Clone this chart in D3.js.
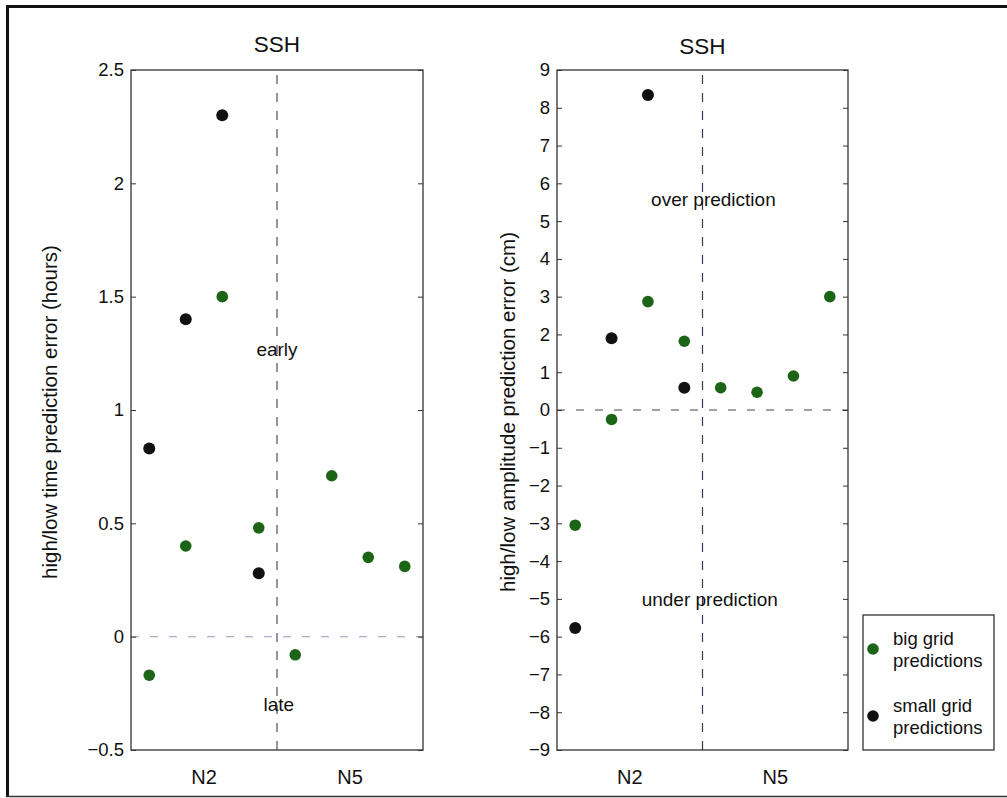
<!DOCTYPE html>
<html>
<head>
<meta charset="utf-8">
<script src="https://cdn.jsdelivr.net/npm/d3@7"></script>
<style>
  body { margin: 0; background: #fff; }
  text { font-family: "Liberation Sans", Arial, Helvetica, sans-serif; fill: #111; }
</style>
</head>
<body>
<div id="container"></div>
<script>
// station index 1..8 (N2 = 1-4, N5 = 5-8)
var timeBigX = [1, 2, 3, 4, 5, 6, 7, 8];
var timeBig = [-0.17, 0.40, 1.50, 0.48, -0.08, 0.71, 0.35, 0.31];
var timeSmallX = [1, 2, 3, 4];
var timeSmall = [0.83, 1.40, 2.30, 0.28];

var ampBigX = [1, 2, 3, 4, 5, 6, 7, 8];
var ampBig = [-3.05, -0.25, 2.87, 1.82, 0.59, 0.47, 0.9, 3.0];
var ampSmallX = [1, 2, 3, 4];
var ampSmall = [-5.77, 1.9, 8.34, 0.59];

var groupLabels = ["N2", "N5"];
var timeTicks = [-0.5, 0, 0.5, 1, 1.5, 2, 2.5];
var timeTickLabels = ["\u22120.5", "0", "0.5", "1", "1.5", "2", "2.5"];
var ampTicks = [-9, -8, -7, -6, -5, -4, -3, -2, -1, 0, 1, 2, 3, 4, 5, 6, 7, 8, 9];
var ampTickLabels = ["\u22129", "\u22128", "\u22127", "\u22126", "\u22125", "\u22124", "\u22123", "\u22122", "\u22121",
                     "0", "1", "2", "3", "4", "5", "6", "7", "8", "9"];
var legendLabels = [["big grid", "predictions"], ["small grid", "predictions"]];

var green = "#1c6416", black = "#111";

var W = 1007, H = 798;
var svg = d3.select("#container").append("svg")
    .attr("id", "chart")
    .attr("width", W)
    .attr("height", H);

// outer frame (top and left thick, bottom thin)
svg.append("line").attr("x1", 6).attr("x2", W).attr("y1", 6.5).attr("y2", 6.5)
    .attr("stroke", "#111").attr("stroke-width", 3);
svg.append("line").attr("x1", 7.5).attr("x2", 7.5).attr("y1", 5).attr("y2", 797)
    .attr("stroke", "#111").attr("stroke-width", 3);
svg.append("line").attr("x1", 6).attr("x2", W).attr("y1", 796.5).attr("y2", 796.5)
    .attr("stroke", "#333").attr("stroke-width", 1.5);

function panel(opts) {
    var x = d3.scaleLinear().domain([0.5, 8.5]).range([opts.left, opts.right]);
    var y = d3.scaleLinear().domain(opts.domain).range([750, 70]);
    var g = svg.append("g");

    // dashed reference lines
    g.append("line")
        .attr("x1", x(4.5)).attr("x2", x(4.5)).attr("y1", y.range()[0]).attr("y2", y.range()[1])
        .attr("stroke", opts.vColor).attr("stroke-width", 1.2).attr("stroke-dasharray", "9,9");
    g.append("line")
        .attr("x1", x.range()[0]).attr("x2", x.range()[1]).attr("y1", y(0)).attr("y2", y(0))
        .attr("stroke", opts.zeroColor).attr("stroke-width", 1.2).attr("stroke-dasharray", "8,11");

    // box
    g.append("rect")
        .attr("x", opts.left).attr("y", 70)
        .attr("width", opts.right - opts.left).attr("height", 680)
        .attr("fill", "none").attr("stroke", "#333").attr("stroke-width", 1.3);

    var yAxis = d3.axisLeft(y).tickValues(opts.ticks)
        .tickFormat(function(d, i) { return opts.tickLabels[i]; })
        .tickSizeInner(-5).tickSizeOuter(0).tickPadding(7);
    var ga = g.append("g").attr("transform", "translate(" + opts.left + ",0)").call(yAxis);
    ga.select(".domain").remove();
    ga.selectAll("line").attr("stroke", "#333");
    ga.selectAll("text").attr("font-size", 18.5).attr("fill", "#111")
        .attr("font-family", "Liberation Sans, Arial, sans-serif");

    var yAxisR = d3.axisRight(y).tickValues(opts.ticks).tickFormat("")
        .tickSizeInner(-5).tickSizeOuter(0);
    var gr = g.append("g").attr("transform", "translate(" + opts.right + ",0)").call(yAxisR);
    gr.select(".domain").remove();
    gr.selectAll("line").attr("stroke", "#333");

    // group labels
    g.selectAll(".grp").data(groupLabels).enter().append("text")
        .attr("x", function(d, i) { return x(i === 0 ? 2.5 : 6.5); })
        .attr("y", 784)
        .attr("text-anchor", "middle").attr("font-size", 20)
        .text(function(d) { return d; });

    // title
    g.append("text").attr("x", x(4.5)).attr("y", opts.titleY).attr("text-anchor", "middle")
        .attr("font-size", 22.5).text("SSH");

    // y label
    g.append("text")
        .attr("transform", "translate(" + opts.labelX + ",412) rotate(-90)")
        .attr("text-anchor", "middle").attr("font-size", 20.5)
        .text(opts.label);

    // annotations
    opts.notes.forEach(function(n) {
        g.append("text").attr("x", x(n[0])).attr("y", y(n[1]))
            .attr("text-anchor", "middle").attr("font-size", 19).text(n[2]);
    });

    // points
    opts.series.forEach(function(s) {
        g.selectAll(null).data(s.vals).enter().append("circle")
            .attr("cx", function(d, i) { return x(s.xs[i]); })
            .attr("cy", function(d) { return y(d); })
            .attr("r", s.r)
            .attr("fill", s.color);
    });
    return g;
}

panel({
    left: 131, right: 423, domain: [-0.5, 2.5],
    ticks: timeTicks, tickLabels: timeTickLabels,
    vColor: "#4a5068", zeroColor: "#a8b0c8", labelX: 57, titleY: 52,
    label: "high/low time prediction error (hours)",
    notes: [[4.5, 1.24, "early"], [4.55, -0.33, "late"]],
    series: [
        {xs: timeBigX, vals: timeBig, color: green, r: 5.8},
        {xs: timeSmallX, vals: timeSmall, color: black, r: 6}
    ]
});

panel({
    left: 557, right: 848, domain: [-9, 9],
    ticks: ampTicks, tickLabels: ampTickLabels,
    vColor: "#343a50", zeroColor: "#444", labelX: 515, titleY: 54,
    label: "high/low amplitude prediction error (cm)",
    notes: [[4.8, 5.4, "over prediction"], [4.7, -5.2, "under prediction"]],
    series: [
        {xs: ampBigX, vals: ampBig, color: green, r: 5.8},
        {xs: ampSmallX, vals: ampSmall, color: black, r: 6}
    ]
});

// legend
var lg = svg.append("g");
lg.append("rect").attr("x", 863).attr("y", 615).attr("width", 131).attr("height", 135)
    .attr("fill", "#fff").attr("stroke", "#333").attr("stroke-width", 1.3);
var legendColors = [green, black];
legendLabels.forEach(function(lines, i) {
    var cy = 649 + i * 67;
    lg.append("circle").attr("cx", 873).attr("cy", cy).attr("r", 5.8).attr("fill", legendColors[i]);
    lines.forEach(function(t, j) {
        lg.append("text").attr("x", 893).attr("y", cy - 4 + j * 22)
            .attr("font-size", 18.5).text(t);
    });
});
</script>
</body>
</html>
